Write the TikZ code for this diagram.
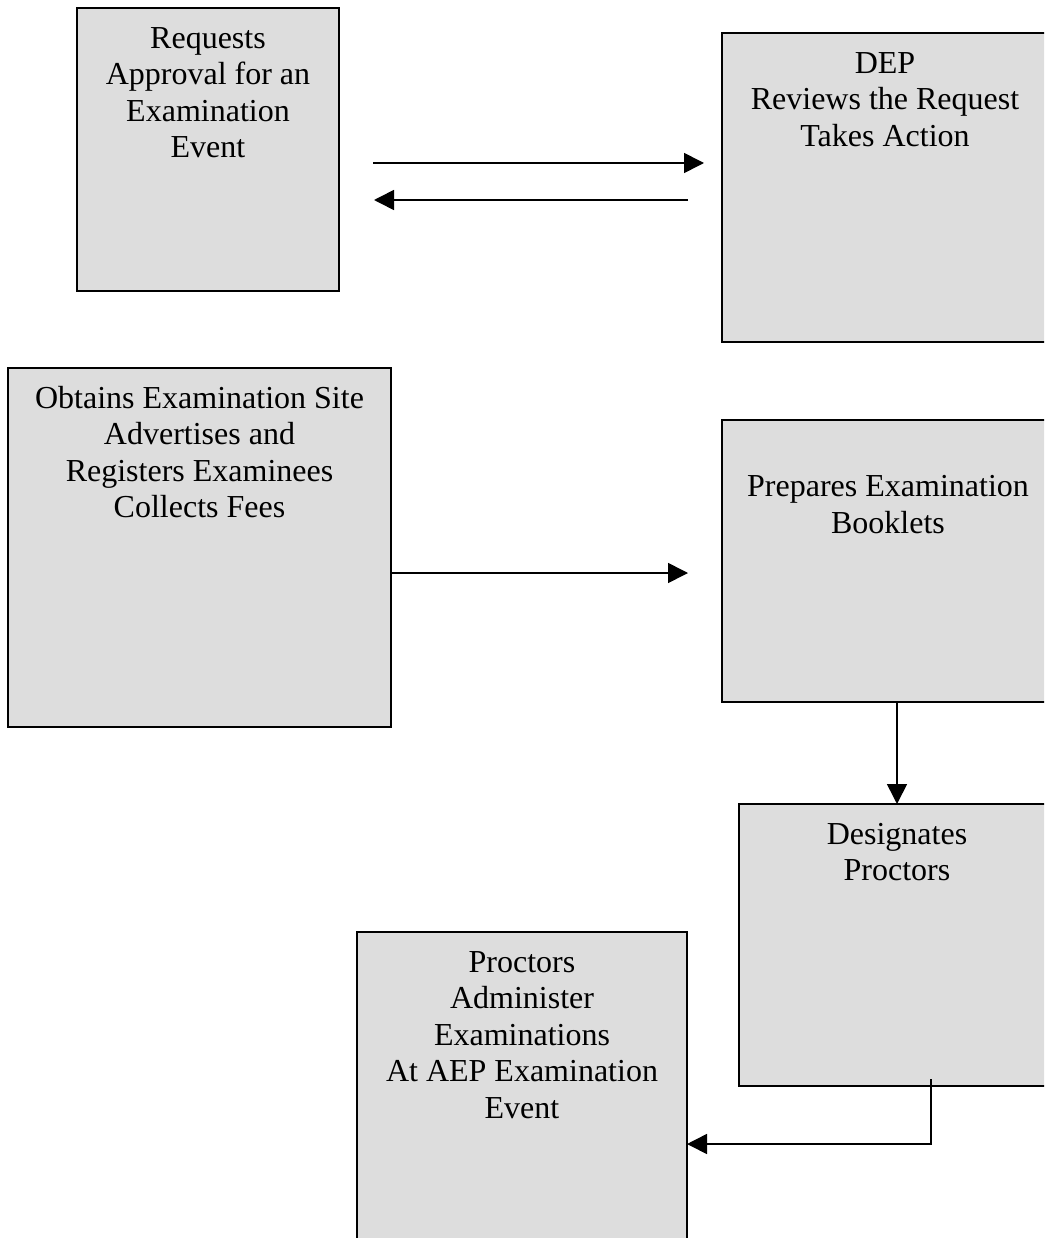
\documentclass[tikz,border=0pt]{standalone}
\usepackage{fontspec}
\setmainfont{Liberation Serif}
\usetikzlibrary{arrows.meta}
\definecolor{boxgray}{HTML}{DDDDDD}
\begin{document}
\begin{tikzpicture}[x=1pt,y=-1pt,
  box/.style={draw=black, line width=1.8pt, fill=boxgray, anchor=north west, inner sep=0pt, outer sep=0pt},
  txt/.style={font=\fontsize{32}{36.5}\selectfont, align=center, anchor=north, inner sep=0pt},
  conn/.style={line width=1.6pt, -{Triangle[length=20pt,width=20pt]}}]
\useasboundingbox (0,0) rectangle (1044,1238);
\clip (0,0) rectangle (1044,1238);
% boxes
\node[box, minimum width=262pt, minimum height=283pt] (b1) at (77,8) {};
\node[box, minimum width=326pt, minimum height=309pt] (b2) at (722,33) {};
\node[box, minimum width=383pt, minimum height=359pt] (b3) at (8,368) {};
\node[box, minimum width=332pt, minimum height=282pt] (b4) at (722,420) {};
\node[box, minimum width=316pt, minimum height=282pt] (b5) at (739,804) {};
\node[box, minimum width=330pt, minimum height=330pt] (b6) at (357,932) {};
% texts
\node[txt] (t1) at ([yshift=-14.5pt]b1.north) {\strut Requests\\Approval for an\\Examination\\Event};
\node[txt] (t2) at ([yshift=-14.5pt]b2.north) {\strut DEP\\Reviews the Request\\Takes Action};
\node[txt] (t3) at ([yshift=-14.5pt]b3.north) {\strut Obtains Examination Site\\Advertises and\\Registers Examinees\\Collects Fees};
\node[txt] (t4) at ([yshift=-51pt]b4.north) {\strut Prepares Examination\\Booklets};
\node[txt] (t5) at ([yshift=-14.5pt]b5.north) {\strut Designates\\Proctors};
\node[txt] (t6) at ([yshift=-14.5pt]b6.north) {\strut Proctors\\Administer\\Examinations\\At AEP Examination\\Event};
% connector end points
\coordinate (a1s) at (373,163);
\coordinate (a1e) at (704,163);
\coordinate (a2s) at (688,200);
\coordinate (a2e) at (374,200);
\coordinate (a3e) at (688,573);
\coordinate (e1) at (931,1079);
\coordinate (e2) at (931,1144);
% connectors
\draw[conn] (a1s) -- (a1e);
\draw[conn] (a2s) -- (a2e);
\draw[conn] (b3.east |- a3e) -- (a3e);
\draw[conn] (b5.north |- b4.south) -- (b5.north);
\draw[conn] (e1) -- (e2) -- (e2 -| b6.east);
\end{tikzpicture}
\end{document}
